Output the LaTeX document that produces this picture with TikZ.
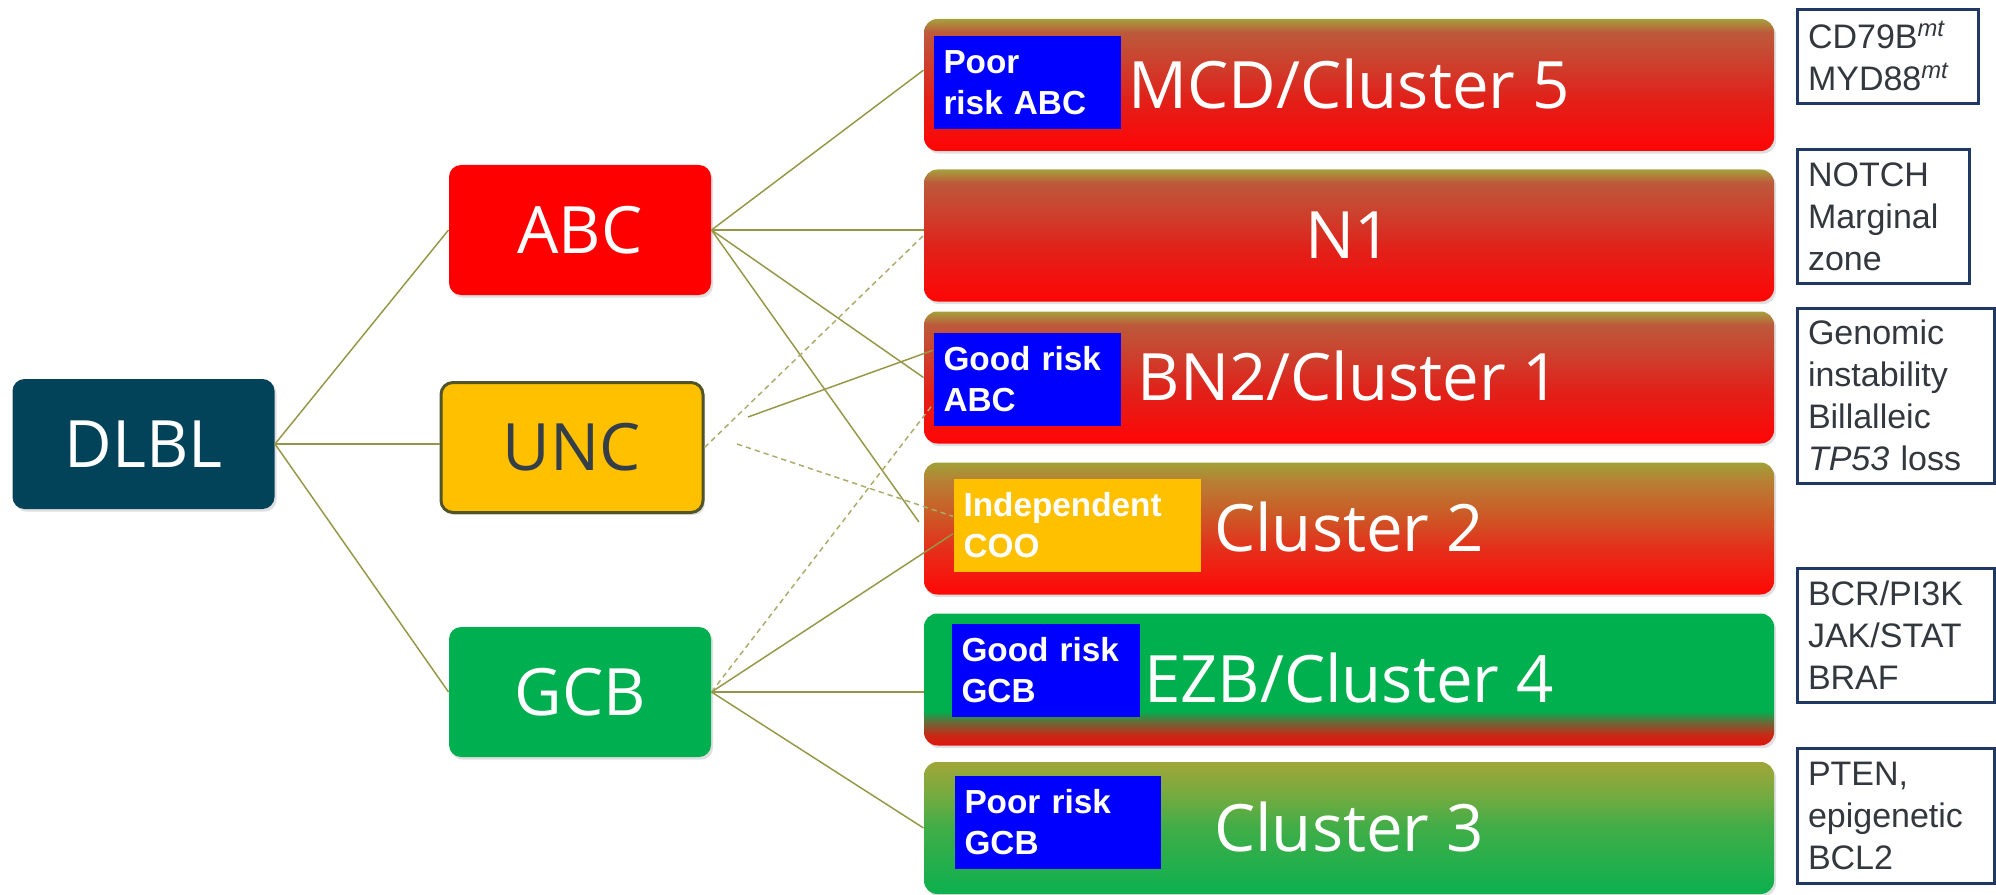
\documentclass[tikz,border=0pt]{standalone}
\usepackage{fontspec}
\setmainfont{Open Sans}
\newfontfamily\arialfont{Liberation Sans}
\usetikzlibrary{shadows}

\definecolor{dlblblue}{RGB}{3,67,90}
\definecolor{abcred}{RGB}{255,0,0}
\definecolor{uncgold}{RGB}{255,192,0}
\definecolor{uncedge}{RGB}{80,84,40}
\definecolor{unctext}{RGB}{52,62,72}
\definecolor{gcbgreen}{RGB}{0,176,80}
\definecolor{riskblue}{RGB}{0,0,255}
\definecolor{linkolive}{RGB}{150,150,70}
\definecolor{notenavy}{RGB}{31,56,100}
\definecolor{notetext}{RGB}{50,56,62}

% shadings of the cluster boxes (bottom to top)
\pgfdeclareverticalshading{abcfade}{100bp}{rgb(0bp)=(1,0.02,0.02); rgb(25bp)=(1,0.02,0.02); rgb(45bp)=(0.88,0.13,0.1); rgb(57bp)=(0.81,0.24,0.17); rgb(70bp)=(0.74,0.35,0.23); rgb(75bp)=(0.65,0.63,0.24); rgb(100bp)=(0.65,0.63,0.24)}
\pgfdeclareverticalshading{uncfade}{100bp}{rgb(0bp)=(1,0.03,0.02); rgb(25bp)=(1,0.03,0.02); rgb(42bp)=(0.9,0.18,0.1); rgb(55bp)=(0.8,0.35,0.15); rgb(68bp)=(0.72,0.5,0.2); rgb(75bp)=(0.63,0.63,0.22); rgb(100bp)=(0.63,0.63,0.22)}
\pgfdeclareverticalshading{gcbfade}{100bp}{rgb(0bp)=(0.88,0.08,0.06); rgb(25bp)=(0.88,0.08,0.06); rgb(29bp)=(0.78,0.16,0.08); rgb(34bp)=(0.4,0.42,0.22); rgb(38bp)=(0,0.69,0.31); rgb(75bp)=(0,0.69,0.31); rgb(100bp)=(0,0.69,0.31)}
\pgfdeclareverticalshading{greenfade}{100bp}{rgb(0bp)=(0.05,0.69,0.31); rgb(25bp)=(0.05,0.69,0.31); rgb(50bp)=(0.25,0.68,0.28); rgb(62bp)=(0.45,0.67,0.25); rgb(75bp)=(0.63,0.65,0.22); rgb(100bp)=(0.63,0.65,0.22)}

\tikzset{every picture/.style={line width=0.75pt}}
\tikzset{
  bigtext/.style={text=white, font=\fontsize{49}{57}\selectfont, text height=35pt, text depth=0pt, inner sep=0pt},
  coobox/.style={bigtext, rounded corners=9pt, minimum width=196.5pt, minimum height=97.5pt, drop shadow={opacity=0.25, shadow xshift=1.5pt, shadow yshift=-2pt}},
  clusterbox/.style={bigtext, rounded corners=10pt, minimum width=637.5pt, minimum height=99pt, shade, drop shadow={opacity=0.25, shadow xshift=1.5pt, shadow yshift=-2pt}},
  risklabel/.style={anchor=north west, fill=riskblue, text=white, font=\arialfont\bfseries\fontsize{25}{30.75}\selectfont, align=left, inner xsep=7.5pt, inner ysep=0pt, minimum height=69.75pt},
  genebox/.style={anchor=north west, draw=notenavy, line width=2pt, fill=white, text=notetext, font=\arialfont\fontsize{25.5}{31.5}\selectfont, align=left, inner xsep=8pt, inner ysep=0pt},
  link/.style={draw=linkolive, line width=1.1pt},
  dashlink/.style={link, draw=linkolive!80, dash pattern=on 4pt off 3pt},
}

\begin{document}
\begin{tikzpicture}[x=0.75pt,y=0.75pt,yscale=-1,xscale=1]
\useasboundingbox (0,0) rectangle (1996,895);

% cell of origin
\node[coobox, fill=dlblblue] (dlbl) at (143.5,444) {DLBL};
\node[coobox, fill=abcred] (abc) at (580,230) {ABC};
\node[coobox, fill=uncgold, draw=uncedge, line width=2.25pt, text=unctext] (unc) at (572,447.5) {UNC};
\node[coobox, fill=gcbgreen] (gcb) at (580,692) {GCB};

% clusters
\node[clusterbox, shading=abcfade] (mcd) at (1349,85) {MCD/Cluster 5};
\node[clusterbox, shading=abcfade] (n1) at (1349,235.5) {N1};
\node[clusterbox, shading=abcfade] (bn2) at (1349,377.5) {BN2/Cluster 1};
\node[clusterbox, shading=uncfade] (c2) at (1349,528.5) {Cluster 2};
\node[clusterbox, shading=gcbfade] (ezb) at (1349,679.5) {EZB/Cluster 4};
\node[clusterbox, shading=greenfade] (c3) at (1349,828) {Cluster 3};

% risk labels
\node[risklabel, text width=125.25pt] (lbl5) at (933,36) {Poor\\risk ABC};
\node[risklabel, text width=125.25pt] (lbl1) at (933,332) {Good risk\\ABC};
\node[risklabel, fill=uncgold, text width=170.25pt] (lbl2) at (953,478) {Independent\\COO};
\node[risklabel, text width=126pt] (lbl4) at (951,623) {Good risk\\GCB};
\node[risklabel, text width=139.5pt] (lbl3) at (954,775) {Poor risk\\GCB};

% genetic features
\node[genebox, text width=119.75pt, minimum height=70.5pt] (g5) at (1796,8) {CD79B\textsuperscript{\itshape mt}\\MYD88\textsuperscript{\itshape mt}};
\node[genebox, text width=113pt, minimum height=100.5pt] (gnotch) at (1796,148) {NOTCH\\Marginal\\zone};
\node[genebox, text width=131.75pt, minimum height=131.25pt] (ggen) at (1796,307) {Genomic\\instability\\Billalleic\\\textit{TP53} loss};
\node[genebox, text width=131.75pt, minimum height=100.5pt] (gbcr) at (1796,567) {BCR/PI3K\\JAK/STAT\\BRAF};
\node[genebox, text width=131.75pt, minimum height=101.25pt] (gpten) at (1796,747) {PTEN,\\epigenetic\\BCL2};

% free ends
\coordinate (uncsolid) at (748,417);
\coordinate (uncdash) at (737,444);

%Straight Lines
\draw[link] (dlbl.east) -- (abc.west);
\draw[link] (dlbl.east) -- (dlbl.east -| unc.west);
\draw[link] (dlbl.east) -- (gcb.west);

\draw[link] (abc.east) -- (mcd.178.8);
\draw[link] (abc.east) -- (abc.east -| n1.west);
\draw[link] (abc.east) -- (bn2.west);
\draw[link, shorten >=6pt] (abc.east) -- (c2.west);

\draw[link] (uncsolid) -- (lbl1.163.6);
\draw[dashlink] (unc.east) -- (n1.west);
\draw[dashlink] (uncdash) -- (lbl2.176.5);

\draw[link] (gcb.east) -- (lbl2.184.4);
\draw[dashlink] (gcb.east) -- (lbl1.195.8);
\draw[link] (gcb.east) -- (gcb.east -| ezb.west);
\draw[link] (gcb.east) -- (c3.west);

\end{tikzpicture}
\end{document}
